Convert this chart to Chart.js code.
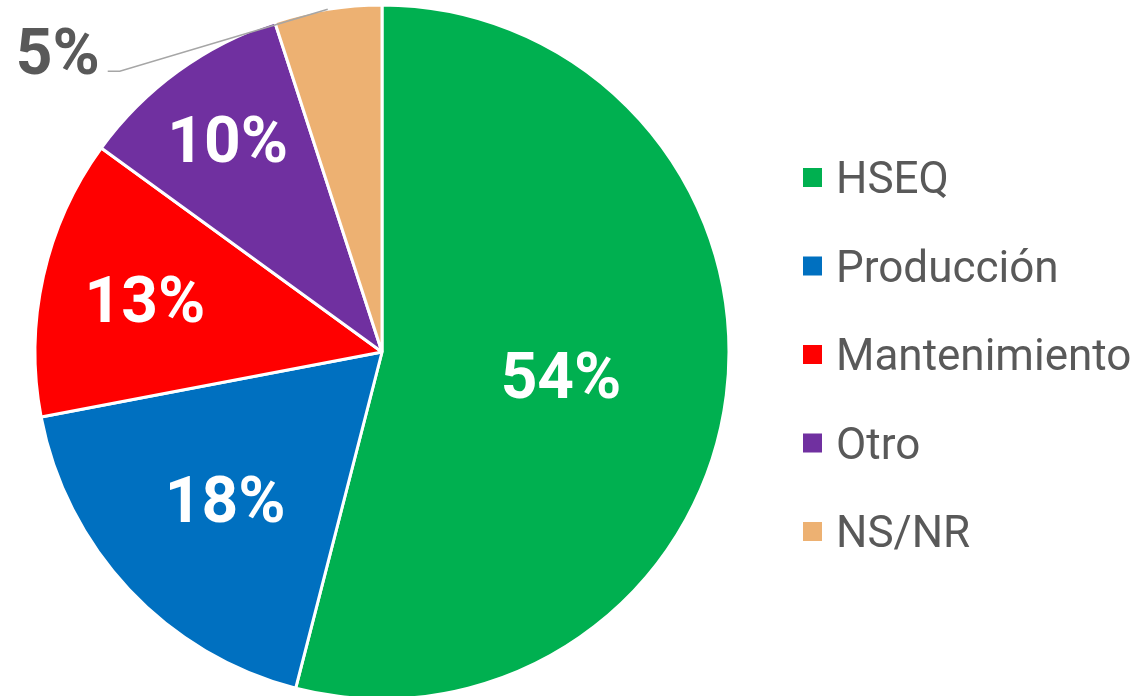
<!DOCTYPE html>
<html>
<head>
<meta charset="utf-8">
<script src="https://cdn.jsdelivr.net/npm/chart.js@4"></script>
<style>
  html, body { margin: 0; background: #fff; }
  canvas { display: block; }
</style>
</head>
<body>
<canvas id="pieChart" width="1138" height="696"></canvas>
<script>
const categories = ["HSEQ", "Producción", "Mantenimiento", "Otro", "NS/NR"];
const shares = [54, 18, 13, 10, 5];
const sliceColors = ["#00B050", "#0070C0", "#FF0000", "#7030A0", "#EDB172"];

const TEXT_GRAY = "#595959";
// how far out (fraction of radius) each inside label sits
const labelDepth = [0.52, 0.62, 0.70, 0.757];

// percentage labels, the last (small) slice gets an outside label + leader line
const pctLabels = {
  id: "pctLabels",
  afterDatasetsDraw(chart) {
    const ctx = chart.ctx;
    const arcs = chart.getDatasetMeta(0).data;
    ctx.save();
    ctx.font = "bold 64px Roboto";
    ctx.textAlign = "center";
    ctx.textBaseline = "alphabetic";
    const half = 23; // about half the digit height
    arcs.forEach((arc, i) => {
      const { x, y, startAngle, endAngle, outerRadius } =
        arc.getProps(["x", "y", "startAngle", "endAngle", "outerRadius"]);
      const mid = (startAngle + endAngle) / 2;
      const text = shares[i] + "%";
      if (i < labelDepth.length) {
        const d = outerRadius * labelDepth[i];
        ctx.fillStyle = "#fff";
        ctx.fillText(text, x + Math.cos(mid) * d, y + Math.sin(mid) * d + half);
      } else {
        const ex = x + Math.cos(mid) * outerRadius;
        const ey = y + Math.sin(mid) * outerRadius;
        const lx = ex - 270, ly = ey + 42;
        ctx.strokeStyle = "#A6A6A6";
        ctx.lineWidth = 1.5;
        ctx.beginPath();
        ctx.moveTo(ex, ey);
        ctx.lineTo(lx + 62, ly + 20);
        ctx.lineTo(lx + 50, ly + 20);
        ctx.stroke();
        ctx.fillStyle = TEXT_GRAY;
        ctx.fillText(text, lx, ly + half);
      }
    });
    ctx.restore();
  }
};

// legend on the right, drawn by hand to get Excel-like spacing
const sideLegend = {
  id: "sideLegend",
  afterDraw(chart) {
    const ctx = chart.ctx;
    ctx.save();
    ctx.font = "44px Roboto";
    ctx.textBaseline = "alphabetic";
    categories.forEach((name, i) => {
      const cy = 177.5 + i * 88.5;
      ctx.fillStyle = sliceColors[i];
      ctx.fillRect(803, cy - 9.5, 19, 19);
      ctx.fillStyle = TEXT_GRAY;
      ctx.fillText(name, 836, cy + 15.5);
    });
    ctx.restore();
  }
};

new Chart(document.getElementById("pieChart"), {
  type: "pie",
  data: {
    labels: categories,
    datasets: [{
      data: shares,
      backgroundColor: sliceColors,
      borderColor: "#fff",
      borderWidth: 3,
      radius: 347
    }]
  },
  options: {
    responsive: false,
    animation: false,
    layout: { padding: { left: 0, right: 374, top: 8, bottom: 0 } },
    plugins: {
      legend: { display: false },
      tooltip: { enabled: false }
    }
  },
  plugins: [pctLabels, sideLegend]
});
</script>
</body>
</html>
